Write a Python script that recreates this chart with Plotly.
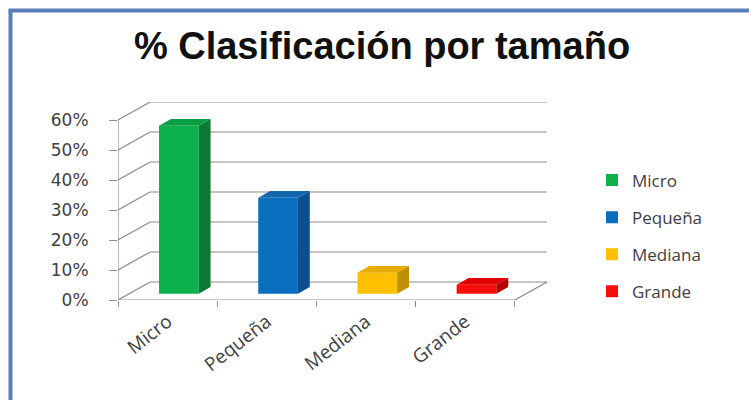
import plotly.graph_objects as go

categories = ["Micro", "Pequeña", "Mediana", "Grande"]
values = [56, 32, 7, 3]
front_colors = ["#0db14b", "#0a6fbf", "#ffc000", "#f80d0d"]
top_colors = ["#0c9e42", "#1266ae", "#e6ad00", "#e00000"]
side_colors = ["#0a7a35", "#0b4f8c", "#c08f00", "#b30000"]
y_ticks = [0, 10, 20, 30, 40, 50, 60]
y_tick_text = ["0%", "10%", "20%", "30%", "40%", "50%", "60%"]

# oblique projection of depth (in data units)
DX = 0.324   # category units for full depth
DY = 6.0     # percent units for full depth
D0, D1 = 0.35, 0.72   # bar front / back depth fraction
BAR_W = 0.4
N = len(categories)

fig = go.Figure()

grid = dict(color="#8c8c8c", width=1.2)
shapes = []
# left wall diagonals and back wall horizontals
for v in y_ticks:
    shapes.append(dict(type="line", xref="x", yref="y", x0=0, y0=v, x1=DX, y1=v + DY,
                       line=grid, layer="below"))
    shapes.append(dict(type="line", xref="x", yref="y", x0=DX, y0=v + DY, x1=N + DX, y1=v + DY,
                       line=grid, layer="below"))
# floor front edge and right edge
shapes.append(dict(type="line", xref="x", yref="y", x0=0, y0=0, x1=N, y1=0,
                   line=grid, layer="below"))
shapes.append(dict(type="line", xref="x", yref="y", x0=N, y0=0, x1=N + DX, y1=DY,
                   line=grid, layer="below"))
# front vertical axis line
shapes.append(dict(type="line", xref="x", yref="y", x0=0, y0=0, x1=0, y1=y_ticks[-1],
                   line=grid, layer="below"))
# chart frame (left & top)
frame = dict(color="#5a7db5", width=4)
shapes.append(dict(type="line", xref="paper", yref="paper",
                   x0=(10.5 - 118) / 429, y0=(300 - 10.5) / 198,
                   x1=(10.5 - 118) / 429, y1=(300 - 402) / 198, line=frame))
shapes.append(dict(type="line", xref="paper", yref="paper",
                   x0=(8.5 - 118) / 429, y0=(300 - 10.5) / 198,
                   x1=(752 - 118) / 429, y1=(300 - 10.5) / 198, line=frame))

for i, (cat, v) in enumerate(zip(categories, values)):
    cx = i + 0.5 + D0 * DX
    base = D0 * DY
    fig.add_trace(go.Bar(x=[cx], y=[v], base=[base], width=BAR_W, name=cat,
                         marker=dict(color=front_colors[i], line=dict(width=0)),
                         legendgroup=cat, hoverinfo="skip"))
    x0 = cx - BAR_W / 2
    x1 = cx + BAR_W / 2
    top = base + v
    ddx = (D1 - D0) * DX
    ddy = (D1 - D0) * DY
    # top face
    fig.add_trace(go.Scatter(x=[x0, x1, x1 + ddx, x0 + ddx, x0],
                             y=[top, top, top + ddy, top + ddy, top],
                             fill="toself", fillcolor=top_colors[i], mode="lines",
                             line=dict(width=0, color=top_colors[i]),
                             showlegend=False, hoverinfo="skip"))
    # side face
    fig.add_trace(go.Scatter(x=[x1, x1, x1 + ddx, x1 + ddx, x1],
                             y=[base, top, top + ddy, base + ddy, base],
                             fill="toself", fillcolor=side_colors[i], mode="lines",
                             line=dict(width=0, color=side_colors[i]),
                             showlegend=False, hoverinfo="skip"))

fig.update_layout(
    width=749, height=400,
    margin=dict(l=118, r=202, t=102, b=100),
    paper_bgcolor="white", plot_bgcolor="white",
    shapes=shapes,
    barmode="overlay",
    title=dict(text="% Clasificación por tamaño", x=382 / 749, xref="container",
               xanchor="center", y=1 - 46 / 400, yref="container", yanchor="middle",
               font=dict(family="Liberation Sans", size=38, color="#111111", weight="bold")),
    xaxis=dict(range=[0, N + DX], tickmode="array",
               tickvals=[i + 0.5 for i in range(N)], ticktext=categories,
               ticks="", tickangle=-38, showgrid=False, zeroline=False, showline=False,
               ticklabelstandoff=6,
               tickfont=dict(family="Open Sans", size=19, color="#404040"),
               minor=dict(tickmode="array", tickvals=list(range(N + 1)), ticks="outside",
                          ticklen=6, tickcolor="#8c8c8c", tickwidth=1.2, showgrid=False),
               fixedrange=True),
    yaxis=dict(range=[0, y_ticks[-1] + DY], tickmode="array", tickvals=y_ticks,
               ticktext=y_tick_text, ticks="outside", ticklen=8, tickcolor="#8c8c8c",
               tickwidth=1.2, showgrid=False, zeroline=False, showline=False,
               ticklabelstandoff=17,
               tickfont=dict(family="DejaVu Sans", size=17, color="#3f3f3f"),
               fixedrange=True),
    legend=dict(x=592 / 749, xref="container", y=1 - 236 / 400, yref="container",
                xanchor="left", yanchor="middle", tracegroupgap=12,
                font=dict(family="Open Sans", size=17, color="#404040"),
                bgcolor="rgba(0,0,0,0)"),
    showlegend=True,
)

fig.write_html("out.html")
